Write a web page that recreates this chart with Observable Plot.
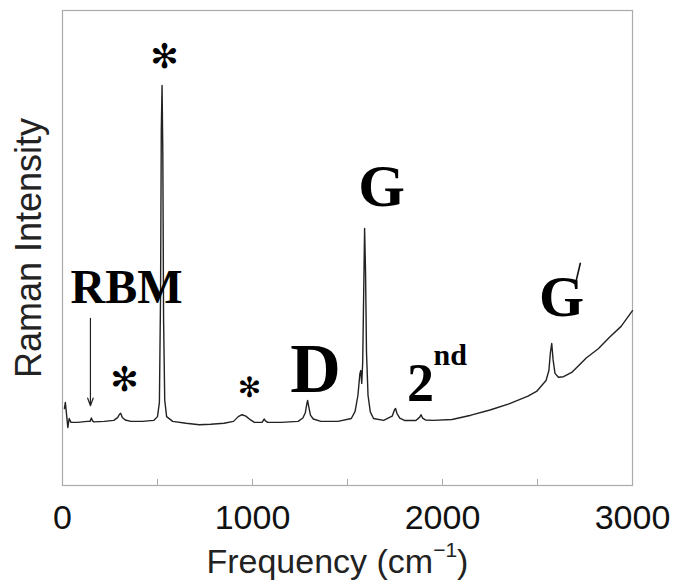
<!DOCTYPE html>
<html>
<head>
<meta charset="utf-8">
<script src="https://cdn.jsdelivr.net/npm/d3@7"></script>
<script src="https://cdn.jsdelivr.net/npm/@observablehq/plot@0.6"></script>
<style>
  html, body { margin: 0; padding: 0; background: #fff; }
</style>
</head>
<body>
<div id="chart"></div>
<script>
// Raman spectrum (frequency in cm^-1, intensity in arbitrary units)
const freq = [10, 15, 22, 28, 35, 45, 80, 130, 145, 152, 158, 165, 220, 270, 290, 300, 306, 315, 330, 360, 420, 480, 500, 510, 516, 520, 524, 528, 532, 538, 548, 580, 650, 720, 780, 850, 900, 925, 945, 965, 990, 1010, 1050, 1062, 1068, 1080, 1150, 1240, 1265, 1278, 1285, 1290, 1296, 1305, 1320, 1360, 1450, 1520, 1540, 1555, 1565, 1570, 1575, 1580, 1585, 1590, 1595, 1600, 1608, 1620, 1637, 1690, 1735, 1748, 1753, 1760, 1775, 1800, 1860, 1880, 1887, 1895, 1910, 1950, 2050, 2150, 2250, 2350, 2450, 2495, 2545, 2560, 2568, 2575, 2582, 2592, 2610, 2637, 2680, 2758, 2820, 2879, 2940, 3000];
const intensity = [16.2, 17.5, 14.7, 12.2, 14.1, 13.3, 13.3, 13.5, 13.5, 14.2, 13.6, 13.4, 13.5, 13.7, 14.3, 15.0, 15.2, 14.3, 13.8, 13.5, 13.5, 13.7, 14.5, 17.5, 40.0, 75.0, 84.2, 70.0, 35.0, 18.0, 14.5, 13.5, 13.1, 12.8, 12.9, 13.1, 13.5, 14.5, 14.9, 14.6, 13.8, 13.3, 13.3, 14.0, 13.6, 13.3, 13.3, 13.5, 14.2, 15.3, 17.0, 17.9, 16.6, 14.8, 14.0, 13.5, 13.5, 14.1, 15.6, 19.0, 23.5, 24.2, 21.5, 26.0, 40.0, 54.1, 45.0, 28.0, 19.0, 15.5, 14.1, 13.7, 14.6, 16.0, 16.2, 15.2, 14.2, 13.7, 13.7, 14.4, 14.9, 14.2, 13.8, 13.7, 13.9, 14.8, 15.9, 17.2, 18.8, 19.8, 22.1, 24.2, 28.0, 29.9, 26.5, 23.6, 22.8, 22.9, 23.8, 26.9, 28.8, 31.2, 33.5, 36.8];

// Axis ticks
const tickLabels = [0, 1000, 2000, 3000];
const tickMinor = [500, 1000, 1500, 2000, 2500];

// Peak annotations
const annText = ["RBM", "D", "G", "G", "2"];
const annFreq = [337, 1332, 1679, 2626, 1884];
const annInt = [38.5, 19.6, 58.9, 35.6, 17.7];
const annSize = [48, 70, 60, 58, 54];

const supText = ["nd"];
const supFreq = [1953];
const supInt = [25.3];

const starFreq = [537, 326, 984];
const starInt = [90.1, 22.1, 20.6];
const starSize = [34, 34, 28];

// G' prime stroke
const primeFreq1 = [2726], primeInt1 = [46.9], primeFreq2 = [2700], primeInt2 = [42.5];

// RBM arrow
const arrowFreq = [147], arrowInt1 = [35.2], arrowInt2 = [16.8];

const spectrum = freq.map((f, i) => ({f, v: intensity[i]}));
const ann = annText.map((t, i) => ({t, f: annFreq[i], v: annInt[i], s: annSize[i]}));
const stars = starFreq.map((f, i) => ({f, v: starInt[i], s: starSize[i]}));

const sans = "Liberation Sans, Arial, Helvetica, sans-serif";
const serif = "Liberation Serif, Times New Roman, serif";

const plot = Plot.plot({
  width: 676,
  height: 581,
  marginLeft: 62,
  marginRight: 44,
  marginTop: 10,
  marginBottom: 96,
  style: {fontFamily: sans, background: "#fff", color: "#222"},
  x: {domain: [0, 3000], label: null},
  y: {domain: [0, 100], axis: null},
  marks: [
    Plot.frame({stroke: "#aaa", strokeWidth: 1.2}),
    Plot.axisX({ticks: tickMinor, tickSize: -6, tickFormat: () => "", stroke: "#aaa", label: null}),
    Plot.axisX({ticks: tickLabels, tickSize: 0, tickPadding: 19, tickFormat: d => String(d), fontSize: 34, fill: "#111", label: null}),
    Plot.line(spectrum, {x: "f", y: "v", stroke: "#222", strokeWidth: 1.4}),
    Plot.arrow(arrowFreq, {x1: d => d, x2: d => d, y1: (d, i) => arrowInt1[i], y2: (d, i) => arrowInt2[i], stroke: "#222", strokeWidth: 1.2, headLength: 10, headAngle: 40}),
    Plot.link(primeFreq1, {x1: d => d, y1: (d, i) => primeInt1[i], x2: (d, i) => primeFreq2[i], y2: (d, i) => primeInt2[i], stroke: "#111", strokeWidth: 1.6}),
    Plot.text(ann, {x: "f", y: "v", text: "t", fontSize: "s", fontFamily: serif, fontWeight: "bold", lineAnchor: "bottom", textAnchor: "middle", fill: "#000"}),
    Plot.text(supText, {x: (d, i) => supFreq[i], y: (d, i) => supInt[i], text: d => d, fontSize: 30, fontFamily: serif, fontWeight: "bold", lineAnchor: "bottom", textAnchor: "start", fill: "#000"}),
    Plot.text(stars, {x: "f", y: "v", text: () => "✻", fontSize: "s", fontFamily: "DejaVu Sans", lineAnchor: "middle", textAnchor: "middle", fill: "#000"}),
    Plot.text(["Raman Intensity"], {frameAnchor: "left", rotate: -90, dx: -33, textAnchor: "middle", lineAnchor: "middle", fontSize: 36, fontFamily: sans, fill: "#222"}),
    Plot.text(["Frequency (cm-1)"], {x: () => 1447, frameAnchor: "bottom", dy: 87, lineAnchor: "bottom", fontSize: 34, fontFamily: sans, fill: "#222"})
  ]
});

document.getElementById("chart").appendChild(plot);

// Rebuild x label with a superscript
d3.select(plot).selectAll("text").filter(function() { return this.textContent === "Frequency (cm-1)"; })
  .each(function() {
    const t = d3.select(this);
    t.text(null);
    t.append("tspan").text("Frequency (cm");
    t.append("tspan").attr("font-size", 21).attr("dy", "-0.75em").text("\u22121");
    t.append("tspan").attr("dy", "0.48em").text(")");
  });
</script>
</body>
</html>
